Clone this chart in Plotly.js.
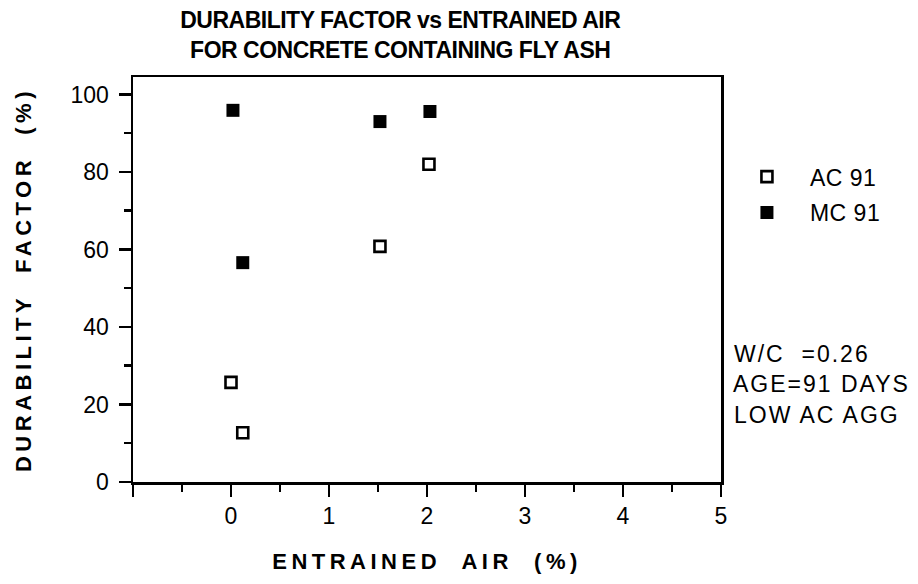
<!DOCTYPE html>
<html>
<head>
<meta charset="utf-8">
<script src="https://cdn.plot.ly/plotly-3.0.1.min.js"></script>
<style>
html,body{margin:0;padding:0;background:#fff;}
#chart{width:918px;height:584px;}
#chart .xtitle, #chart .ytitle { letter-spacing: 4.5px; }
#chart .gtitle { letter-spacing: -0.5px; }
#chart .annotation-text { letter-spacing: 2px; }
#chart .legendtext { letter-spacing: 0.5px; }
</style>
</head>
<body>
<div id="chart"></div>
<script>
// Data
const acAir = [0.0, 0.12, 1.52, 2.02];
const acDF  = [25.7, 12.7, 60.8, 82.0];
const mcAir = [0.02, 0.12, 1.52, 2.03];
const mcDF  = [95.9, 56.6, 93.0, 95.6];

const seriesNames = ['AC 91', 'MC 91'];
const xTickVals = [-1, 0, 1, 2, 3, 4, 5];
const xTickText = ['', '0', '1', '2', '3', '4', '5'];
const noteLines = ['W/C  =0.26', 'AGE=91 DAYS', 'LOW AC AGG'];

const FONT = 'Liberation Sans, Arial, Helvetica, sans-serif';

const traces = [
  {
    x: acAir, y: acDF, name: seriesNames[0], type: 'scatter', mode: 'markers',
    legendgroup: 'a',
    marker: {symbol: 'square-open', size: 11, color: '#000', line: {width: 2.6, color: '#000'}}
  },
  {
    x: mcAir, y: mcDF, name: seriesNames[1], type: 'scatter', mode: 'markers',
    legendgroup: 'b',
    marker: {symbol: 'square', size: 13, color: '#000', line: {width: 0}}
  }
];

const noteAnns = noteLines.map((t, i) => ({
  text: t, xref: 'paper', yref: 'paper', x: 1.035, y: 0.317 - i * 0.0755,
  xanchor: 'left', yanchor: 'middle', showarrow: false,
  font: {family: FONT, size: 23, color: '#000'}
}));

const layout = {
  width: 918, height: 584,
  margin: {l: 133, r: 197, t: 77, b: 102},
  paper_bgcolor: '#fff', plot_bgcolor: '#fff',
  font: {family: FONT, color: '#000'},
  title: {
    text: 'DURABILITY FACTOR vs ENTRAINED AIR<br>FOR CONCRETE CONTAINING FLY ASH',
    font: {family: FONT, size: 23, color: '#000', weight: 'bold'},
    x: 0.436, xanchor: 'center', xref: 'container',
    y: 1 - 28 / 584, yanchor: 'middle', yref: 'container'
  },
  xaxis: {
    range: [-1, 5], tickvals: xTickVals, ticktext: xTickText,
    showgrid: false, zeroline: false,
    showline: true, linecolor: '#000', linewidth: 2.5, mirror: true,
    ticks: 'outside', ticklen: 12, tickwidth: 2.5, tickcolor: '#000',
    minor: {dtick: 0.5, tick0: -0.5, ticks: 'outside', ticklen: 7, tickwidth: 2.5, tickcolor: '#000', showgrid: false},
    tickfont: {family: FONT, size: 23, color: '#000'},
    title: {text: 'ENTRAINED  AIR  (%)', font: {family: FONT, size: 22, color: '#000', weight: 'bold'}, standoff: 26}
  },
  yaxis: {
    range: [0, 104.5], dtick: 20, tick0: 0,
    showgrid: false, zeroline: false,
    showline: true, linecolor: '#000', linewidth: 2.5, mirror: true,
    ticks: 'outside', ticklen: 12, tickwidth: 2.5, tickcolor: '#000',
    minor: {dtick: 10, tick0: 0, ticks: 'outside', ticklen: 7, tickwidth: 2.5, tickcolor: '#000', showgrid: false},
    tickfont: {family: FONT, size: 23, color: '#000'},
    ticklabelstandoff: 5,
    title: {text: 'DURABILITY  FACTOR  (%)', font: {family: FONT, size: 22, color: '#000', weight: 'bold'}, standoff: 33}
  },
  showlegend: true,
  legend: {
    x: 1.005, xanchor: 'left', y: 0.807, yanchor: 'top',
    font: {family: FONT, size: 23, color: '#000'},
    bgcolor: 'rgba(0,0,0,0)', borderwidth: 0,
    tracegroupgap: 3, itemsizing: 'trace', itemwidth: 76
  },
  annotations: noteAnns
};

Plotly.newPlot('chart', traces, layout, {displayModeBar: false, staticPlot: true});
</script>
</body>
</html>
